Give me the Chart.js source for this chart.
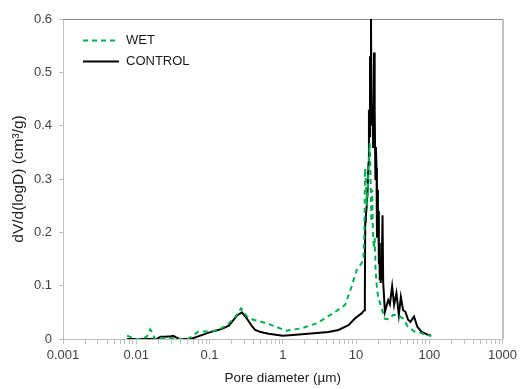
<!DOCTYPE html>
<html>
<head>
<meta charset="utf-8">
<script src="https://cdn.jsdelivr.net/npm/chart.js@4"></script>
<style>
  html, body { margin: 0; padding: 0; background: #fff; }
  #wrap { width: 521px; height: 389px; }
</style>
</head>
<body>
<div id="wrap"><canvas id="poreChart" width="521" height="389"></canvas></div>
<script>
// pore diameter (um) / dV/d(logD) (cm3/g)
const wetX = [0.0075, 0.008, 0.0095, 0.012, 0.014, 0.0155, 0.0165, 0.018, 0.02, 0.03, 0.035, 0.05,
  0.056, 0.065, 0.071, 0.1, 0.134, 0.183, 0.226, 0.27, 0.32, 0.38, 0.52, 0.71, 1.1, 1.8, 3.0, 4.2,
  5.1, 7.1, 8.3, 10.2, 11.9, 12.6, 13.0, 13.3, 13.6, 14.0, 14.5, 15.0, 15.4, 15.8, 16.2, 16.6, 17.0,
  17.5, 18.0, 18.5, 19.2, 20.0, 22.3, 24.8, 28.2, 32, 37.5, 44, 51, 63, 78, 96, 105];
const wetY = [0.006, 0.005, 0, 0, 0.005, 0.018, 0.012, 0, 0.002, 0.002, 0, 0,
  0.004, 0.01, 0.014, 0.014, 0.017, 0.029, 0.042, 0.0575, 0.043, 0.037, 0.032, 0.026, 0.0156, 0.02, 0.03, 0.043,
  0.05, 0.064, 0.09, 0.129, 0.142, 0.15, 0.2, 0.32, 0.3, 0.25, 0.28, 0.34, 0.367, 0.3, 0.22, 0.28, 0.2,
  0.17, 0.19, 0.13, 0.1, 0.079, 0.058, 0.038, 0.037, 0.045, 0.045, 0.038, 0.023, 0.014, 0.011, 0.0075, 0.006];

const controlX = [0.0075, 0.01, 0.015, 0.019, 0.0215, 0.025, 0.03, 0.032, 0.035, 0.039, 0.05, 0.058,
  0.07, 0.098, 0.148, 0.183, 0.21, 0.237, 0.277, 0.325, 0.38, 0.42, 0.5, 0.64, 1.0, 1.5, 2.2, 4.2,
  5.75, 7.9, 9.7, 11.9, 13.0, 13.2, 13.35, 13.6, 14.0, 14.4, 14.8, 15.0, 15.2, 15.5, 15.75, 16.0,
  16.25, 16.5, 16.8, 17.1, 17.35, 17.6, 17.85, 18.1, 18.4, 18.7, 19.05, 19.3, 19.6, 19.9, 20.2,
  20.5, 20.8, 21.1, 21.4, 21.7, 22.0, 22.3, 22.6, 23.0, 23.5, 24.8, 27.5, 29, 31.1, 33.1, 35.6,
  38.4, 40.9, 43.9, 47.2, 51.4, 55.2, 61.9, 68.7, 77.8, 91, 106];
const controlY = [0, 0, 0, 0, 0.004, 0.004, 0.005, 0.006, 0.003, 0, 0, 0.001,
  0.005, 0.012, 0.019, 0.025, 0.035, 0.044, 0.05, 0.038, 0.024, 0.017, 0.013, 0.01, 0.006, 0.008, 0.01, 0.013,
  0.017, 0.026, 0.039, 0.048, 0.054, 0.08, 0.22, 0.23, 0.25, 0.28, 0.33, 0.43, 0.38, 0.53, 0.41, 0.6,
  0.44, 0.4, 0.44, 0.36, 0.43, 0.537, 0.4, 0.43, 0.3, 0.36, 0.32, 0.19, 0.28, 0.19, 0.24,
  0.14, 0.18, 0.11, 0.14, 0.105, 0.135, 0.11, 0.14, 0.232, 0.105, 0.051, 0.073, 0.065, 0.099, 0.064, 0.086,
  0.045, 0.079, 0.054, 0.051, 0.036, 0.032, 0.042, 0.023, 0.014, 0.009, 0.006];

const xTickLabels = ['0.001', '0.01', '0.1', '1', '10', '100', '1000'];
const yTickLabels = ['0', '0.1', '0.2', '0.3', '0.4', '0.5', '0.6'];

const toPoints = (xs, ys) => xs.map((x, i) => ({x: x, y: ys[i]}));

Chart.defaults.font.family = "'Liberation Sans', Arial, sans-serif";
Chart.defaults.font.size = 13;
Chart.defaults.color = '#404040';

// grey frame on top and right of the plot area
const framePlugin = {
  id: 'frame',
  beforeDatasetsDraw(chart) {
    const {ctx, chartArea: a} = chart;
    ctx.save();
    ctx.strokeStyle = '#868686';
    ctx.lineWidth = 1;
    ctx.beginPath();
    ctx.moveTo(a.left, a.top + 0.5);
    ctx.lineTo(a.right + 0.5, a.top + 0.5);
    ctx.lineTo(a.right + 0.5, a.bottom);
    ctx.stroke();
    ctx.restore();
  }
};

// legend drawn inside the plot, top left, one entry per row
const insideLegend = {
  id: 'insideLegend',
  afterDatasetsDraw(chart) {
    const ctx = chart.ctx;
    ctx.save();
    chart.data.datasets.forEach((ds, i) => {
      const y = 40.5 + i * 21;
      ctx.strokeStyle = ds.borderColor;
      ctx.lineWidth = ds.borderWidth;
      ctx.setLineDash(ds.borderDash || []);
      ctx.beginPath();
      ctx.moveTo(83, y);
      ctx.lineTo(119, y);
      ctx.stroke();
      ctx.setLineDash([]);
      ctx.fillStyle = '#1a1a1a';
      ctx.font = "13px 'Liberation Sans', Arial, sans-serif";
      ctx.textBaseline = 'middle';
      ctx.fillText(ds.label, 126, y);
    });
    ctx.restore();
  }
};

new Chart(document.getElementById('poreChart'), {
  type: 'scatter',
  data: {
    datasets: [
      {
        label: 'WET',
        data: toPoints(wetX, wetY),
        showLine: true,
        borderColor: '#00b050',
        borderWidth: 2,
        borderDash: [5, 4],
        pointRadius: 0,
        tension: 0
      },
      {
        label: 'CONTROL',
        data: toPoints(controlX, controlY),
        showLine: true,
        borderColor: '#000000',
        borderWidth: 2,
        pointRadius: 0,
        tension: 0
      }
    ]
  },
  options: {
    responsive: false,
    animation: false,
    layout: {padding: {top: 19, right: 16, left: 0, bottom: 0}},
    plugins: {
      legend: {display: false},
      tooltip: {enabled: false}
    },
    scales: {
      x: {
        type: 'logarithmic',
        min: 0.001,
        max: 1000,
        afterBuildTicks(scale) {
          const ticks = [];
          for (let e = -3; e <= 3; e++) {
            for (let s = 1; s <= 9; s++) {
              if (e === 3 && s > 1) break;
              ticks.push({value: Number((s * Math.pow(10, e)).toPrecision(3)), major: s === 1});
            }
          }
          scale.ticks = ticks;
        },
        afterFit(scale) { scale.height = 50; },
        ticks: {
          autoSkip: false,
          maxRotation: 0,
          padding: 4,
          color: '#404040',
          callback(value, index, ticks) {
            if (!ticks[index].major) return '';
            return xTickLabels[Math.round(Math.log10(value)) + 3];
          }
        },
        grid: {drawOnChartArea: false, tickLength: 5, color: '#bfbfbf'},
        border: {color: '#bfbfbf'},
        title: {
          display: true,
          text: 'Pore diameter (µm)',
          color: '#1a1a1a',
          font: {size: 13.5},
          padding: {top: 0, bottom: 3}
        }
      },
      y: {
        min: 0,
        max: 0.6,
        afterFit(scale) { scale.width = 63; },
        ticks: {
          stepSize: 0.1,
          padding: 7,
          color: '#404040',
          callback(value) { return yTickLabels[Math.round(value * 10)]; }
        },
        grid: {drawOnChartArea: false, tickLength: 4, color: '#bfbfbf'},
        border: {color: '#bfbfbf'},
        title: {
          display: true,
          text: 'dV/d(logD) (cm³/g)',
          color: '#1a1a1a',
          font: {size: 15.5},
          padding: {top: 9, bottom: 0}
        }
      }
    }
  },
  plugins: [framePlugin, insideLegend]
});
</script>
</body>
</html>
